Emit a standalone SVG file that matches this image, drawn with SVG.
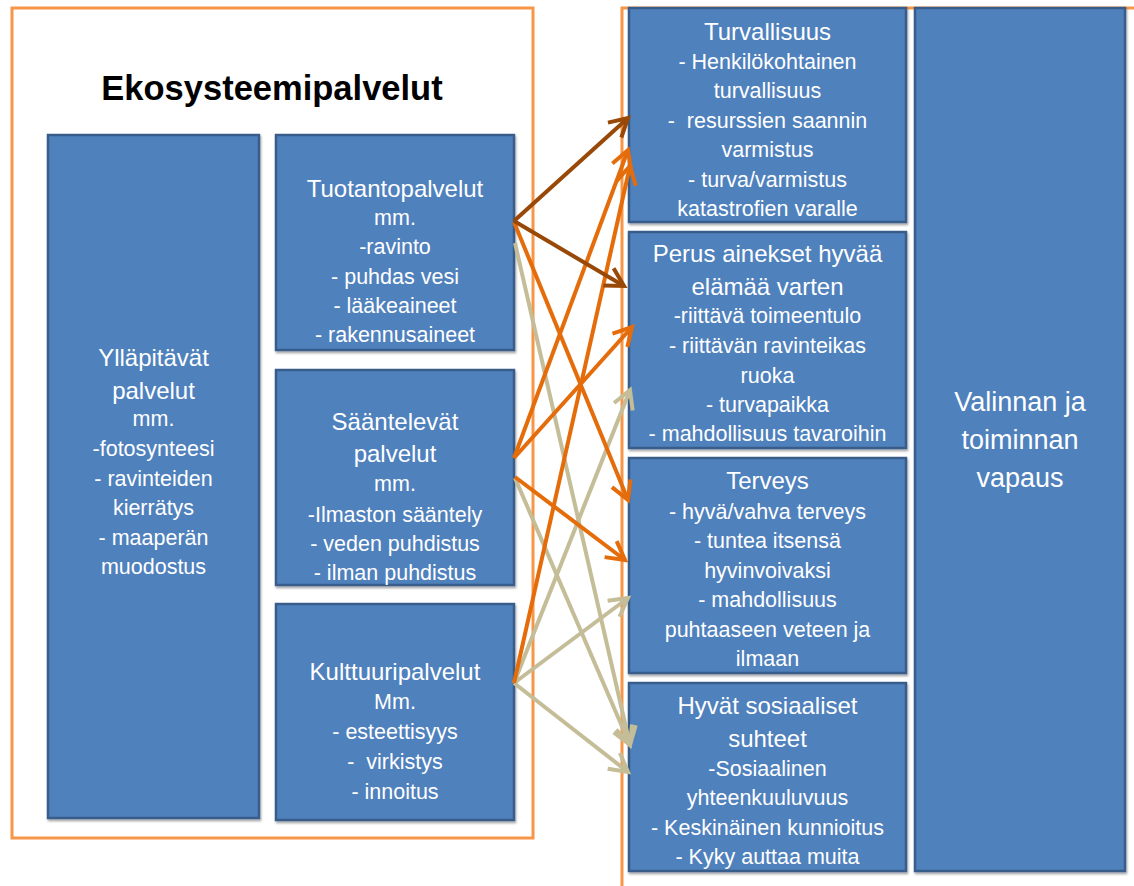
<svg xmlns="http://www.w3.org/2000/svg" width="1134" height="886" viewBox="0 0 1134 886">
<style>
.frame{fill:none;stroke:#F79646;stroke-width:3}
.box{fill:#4F81BD;stroke:#385D8A;stroke-width:2.5;filter:url(#sh)}
.t{font-family:"Liberation Sans",Arial,sans-serif;fill:#FFFFFF;text-anchor:middle}
.h{font-size:24px}
.i{font-size:21.5px}
.big{font-size:27px}
.title{font-family:"Liberation Sans",Arial,sans-serif;font-weight:bold;font-size:34.5px;fill:#000;text-anchor:middle}
.c{fill:none;stroke-width:4}
.br{stroke:#984807}
.or{stroke:#E46C0A}
.be{stroke:#C4BD97}
</style>
<defs>
<filter id="sh" x="-10%" y="-10%" width="120%" height="120%">
<feDropShadow dx="1" dy="2" stdDeviation="1.2" flood-color="#000" flood-opacity="0.35"/>
</filter>
<marker id="mbr" markerUnits="userSpaceOnUse" viewBox="-22 -14 26 28" refX="0" refY="0" markerWidth="26" markerHeight="28" orient="auto">
<path d="M-18,-10 L0,0 L-18,10" fill="none" stroke="#984807" stroke-width="4"/>
</marker>
<marker id="mor" markerUnits="userSpaceOnUse" viewBox="-22 -14 26 28" refX="0" refY="0" markerWidth="26" markerHeight="28" orient="auto">
<path d="M-18,-10 L0,0 L-18,10" fill="none" stroke="#E46C0A" stroke-width="4"/>
</marker>
<marker id="mbe" markerUnits="userSpaceOnUse" viewBox="-22 -14 26 28" refX="0" refY="0" markerWidth="26" markerHeight="28" orient="auto">
<path d="M-18,-10 L0,0 L-18,10" fill="none" stroke="#C4BD97" stroke-width="4"/>
</marker>
</defs>
<rect width="1134" height="886" fill="#FFFFFF"/>
<g id="frames">
<rect class="frame" x="12" y="8" width="521" height="830"/>
<rect class="frame" x="622" y="8" width="600" height="900"/>
</g>
<g id="title">
<text class="title" x="272" y="100">Ekosysteemipalvelut</text>
</g>
<g id="yllapitavat">
<rect class="box" x="48" y="135" width="211" height="683"/>
<text class="t h" x="153.5" y="366">Ylläpitävät</text>
<text class="t h" x="153.5" y="399">palvelut</text>
<text class="t i" x="153.5" y="426">mm.</text>
<text class="t i" x="153.5" y="456">-fotosynteesi</text>
<text class="t i" x="153.5" y="486">- ravinteiden</text>
<text class="t i" x="153.5" y="515">kierrätys</text>
<text class="t i" x="153.5" y="545">- maaperän</text>
<text class="t i" x="153.5" y="574">muodostus</text>
</g>
<g id="tuotanto">
<rect class="box" x="276" y="135" width="238" height="215"/>
<text class="t h" x="395" y="197">Tuotantopalvelut</text>
<text class="t i" x="395" y="225">mm.</text>
<text class="t i" x="395" y="254">-ravinto</text>
<text class="t i" x="395" y="284">- puhdas vesi</text>
<text class="t i" x="395" y="313">- lääkeaineet</text>
<text class="t i" x="395" y="342">- rakennusaineet</text>
</g>
<g id="saantelevat">
<rect class="box" x="276" y="370" width="238" height="215"/>
<text class="t h" x="395" y="430">Sääntelevät</text>
<text class="t h" x="395" y="462">palvelut</text>
<text class="t i" x="395" y="491">mm.</text>
<text class="t i" x="395" y="522">-Ilmaston sääntely</text>
<text class="t i" x="395" y="551">- veden puhdistus</text>
<text class="t i" x="395" y="580">- ilman puhdistus</text>
</g>
<g id="kulttuuri">
<rect class="box" x="276" y="604" width="238" height="216"/>
<text class="t h" x="395" y="680">Kulttuuripalvelut</text>
<text class="t i" x="395" y="709">Mm.</text>
<text class="t i" x="395" y="739">- esteettisyys</text>
<text class="t i" x="395" y="769" xml:space="preserve">-  virkistys</text>
<text class="t i" x="395" y="799">- innoitus</text>
</g>
<g id="turvallisuus">
<rect class="box" x="629" y="8" width="277" height="214"/>
<text class="t h" x="767.5" y="40">Turvallisuus</text>
<text class="t i" x="767.5" y="69">- Henkilökohtainen</text>
<text class="t i" x="767.5" y="98">turvallisuus</text>
<text class="t i" x="767.5" y="128" xml:space="preserve">-  resurssien saannin</text>
<text class="t i" x="767.5" y="157">varmistus</text>
<text class="t i" x="767.5" y="187">- turva/varmistus</text>
<text class="t i" x="767.5" y="216">katastrofien varalle</text>
</g>
<g id="perus">
<rect class="box" x="629" y="232" width="277" height="216"/>
<text class="t h" x="767.5" y="262">Perus ainekset hyvää</text>
<text class="t h" x="767.5" y="295">elämää varten</text>
<text class="t i" x="767.5" y="323">-riittävä toimeentulo</text>
<text class="t i" x="767.5" y="353">- riittävän ravinteikas</text>
<text class="t i" x="767.5" y="383">ruoka</text>
<text class="t i" x="767.5" y="412">- turvapaikka</text>
<text class="t i" x="767.5" y="441">- mahdollisuus tavaroihin</text>
</g>
<g id="terveys">
<rect class="box" x="629" y="458" width="277" height="215"/>
<text class="t h" x="767.5" y="489">Terveys</text>
<text class="t i" x="767.5" y="519">- hyvä/vahva terveys</text>
<text class="t i" x="767.5" y="548">- tuntea itsensä</text>
<text class="t i" x="767.5" y="578">hyvinvoivaksi</text>
<text class="t i" x="767.5" y="607">- mahdollisuus</text>
<text class="t i" x="767.5" y="637">puhtaaseen veteen ja</text>
<text class="t i" x="767.5" y="666">ilmaan</text>
</g>
<g id="hyvat">
<rect class="box" x="629" y="683" width="277" height="188"/>
<text class="t h" x="767.5" y="714">Hyvät sosiaaliset</text>
<text class="t h" x="767.5" y="747">suhteet</text>
<text class="t i" x="767.5" y="776">-Sosiaalinen</text>
<text class="t i" x="767.5" y="805">yhteenkuuluvuus</text>
<text class="t i" x="767.5" y="835">- Keskinäinen kunnioitus</text>
<text class="t i" x="767.5" y="864">- Kyky auttaa muita</text>
</g>
<g id="valinnan">
<rect class="box" x="915" y="8" width="210" height="863"/>
<text class="t big" x="1020" y="411">Valinnan ja</text>
<text class="t big" x="1020" y="449">toiminnan</text>
<text class="t big" x="1020" y="487">vapaus</text>
</g>
<g id="connectors">
<line class="c be" x1="515" y1="243" x2="630" y2="745" marker-end="url(#mbe)"/>
<line class="c be" x1="515" y1="478" x2="630" y2="745" marker-end="url(#mbe)"/>
<line class="c be" x1="514" y1="683" x2="630" y2="390" marker-end="url(#mbe)"/>
<line class="c be" x1="514" y1="683" x2="628" y2="598" marker-end="url(#mbe)"/>
<line class="c be" x1="514" y1="683" x2="628" y2="772" marker-end="url(#mbe)"/>
<line class="c or" x1="514" y1="222" x2="628" y2="500" marker-end="url(#mor)"/>
<line class="c or" x1="514" y1="458" x2="628" y2="150" marker-end="url(#mor)"/>
<line class="c or" x1="514" y1="458" x2="632" y2="327" marker-end="url(#mor)"/>
<line class="c or" x1="515" y1="477" x2="625" y2="560" marker-end="url(#mor)"/>
<line class="c or" x1="514" y1="683" x2="630" y2="166" marker-end="url(#mor)"/>
<line class="c br" x1="514" y1="221" x2="628" y2="118" marker-end="url(#mbr)"/>
<line class="c br" x1="514" y1="221" x2="624" y2="286" marker-end="url(#mbr)"/>
</g>
</svg>
